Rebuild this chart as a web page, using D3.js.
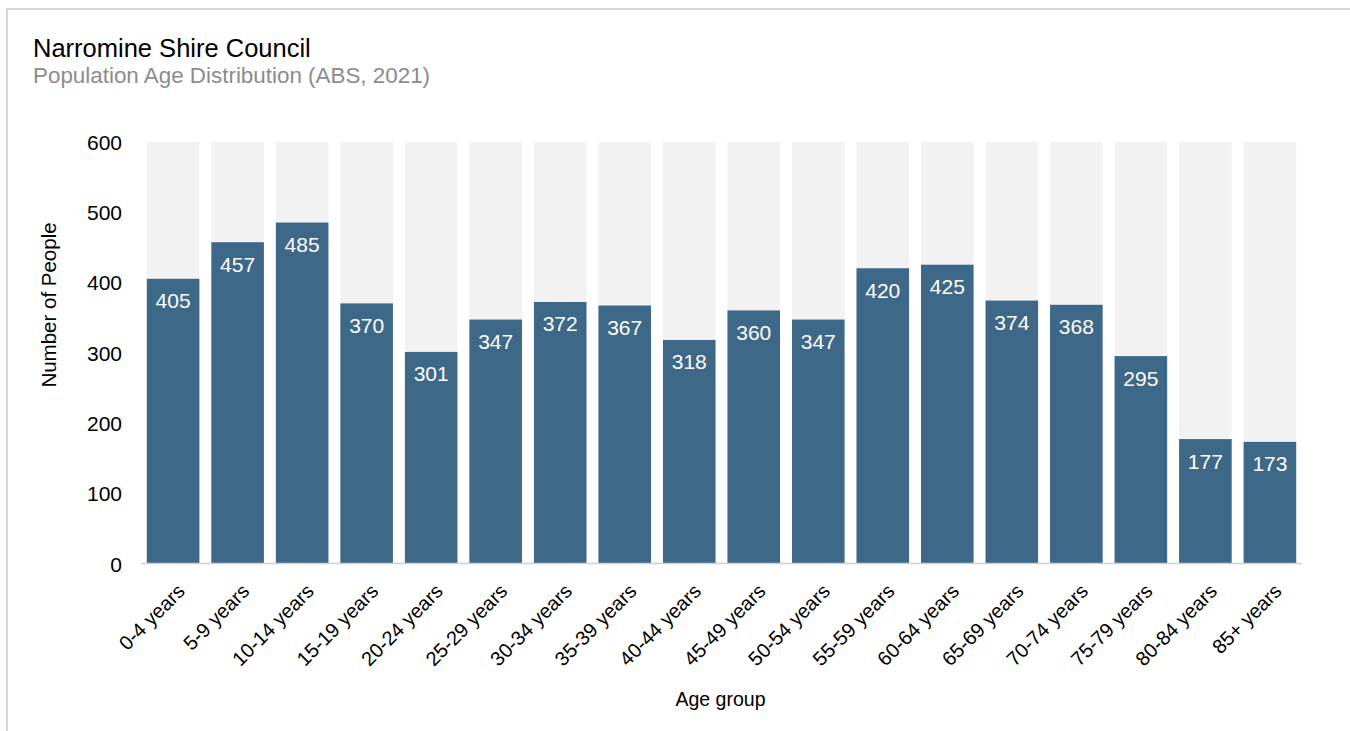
<!DOCTYPE html>
<html><head><meta charset="utf-8">
<script src="https://cdn.jsdelivr.net/npm/d3@7"></script>
<style>
html,body{margin:0;padding:0;background:#fff;}
svg{display:block;font-family:"Liberation Sans",Arial,sans-serif;}
</style></head>
<body>
<svg id="chart" width="1350" height="731"></svg>
<script>
const categories = ["0-4 years","5-9 years","10-14 years","15-19 years","20-24 years","25-29 years","30-34 years","35-39 years","40-44 years","45-49 years","50-54 years","55-59 years","60-64 years","65-69 years","70-74 years","75-79 years","80-84 years","85+ years"];
const values = [405,457,485,370,301,347,372,367,318,360,347,420,425,374,368,295,177,173];
const yTicks = [0,100,200,300,400,500,600];
const yMax = 600;
const title = "Narromine Shire Council";
const subtitle = "Population Age Distribution (ABS, 2021)";
const xTitle = "Age group";
const yTitle = "Number of People";

const svg = d3.select("#chart");
// border
svg.append("line").attr("x1",7).attr("x2",1350).attr("y1",9).attr("y2",9).attr("stroke","#d9d9d9").attr("stroke-width",2);
svg.append("line").attr("x1",7).attr("x2",7).attr("y1",8).attr("y2",731).attr("stroke","#d9d9d9").attr("stroke-width",2);

svg.append("text").attr("x",33).attr("y",57).attr("font-size",25.5).attr("fill","#000").text(title);
svg.append("text").attr("x",33).attr("y",83).attr("font-size",22.4).attr("fill","#8c8c8c").text(subtitle);

const x = d3.scaleBand().domain(categories).range([141,1302]).paddingInner(0.185).paddingOuter(0.09);
const y = d3.scaleLinear().domain([0,yMax]).range([563.5,141.7]);

// background bars
svg.append("g").selectAll("rect").data(categories).join("rect")
  .attr("x",d=>x(d)).attr("width",x.bandwidth())
  .attr("y",y(yMax)).attr("height",y(0)-y(yMax)).attr("fill","#f2f2f2");

// value bars
svg.append("g").selectAll("rect").data(values).join("rect")
  .attr("x",(d,i)=>x(categories[i])).attr("width",x.bandwidth())
  .attr("y",d=>y(d)).attr("height",d=>y(0)-y(d)).attr("fill","#3e6888");

// labels
svg.append("g").selectAll("text").data(values).join("text")
  .attr("x",(d,i)=>x(categories[i])+x.bandwidth()/2)
  .attr("y",d=>y(d)+29.5)
  .attr("text-anchor","middle").attr("font-size",21).attr("fill","#fff").text(d=>d);

// baseline
svg.append("line").attr("x1",141).attr("x2",1302).attr("y1",y(0)).attr("y2",y(0)).attr("stroke","#d0d0d0").attr("stroke-width",1.5);

// y axis
const yAxis = svg.append("g").attr("transform","translate(141,0)")
  .call(d3.axisLeft(y).tickValues(yTicks).tickSize(0).tickPadding(19));
yAxis.select(".domain").remove();
yAxis.selectAll("text").attr("font-size",21).attr("fill","#000").attr("font-family","Liberation Sans, Arial, sans-serif").attr("dy","0.36em");

// x axis
const xAxis = svg.append("g").attr("transform",`translate(0,${y(0)})`)
  .call(d3.axisBottom(x).tickSize(0).tickPadding(0));
xAxis.select(".domain").remove();
xAxis.selectAll("text").attr("font-size",20).attr("fill","#000").attr("font-family","Liberation Sans, Arial, sans-serif")
  .attr("text-anchor","end").attr("dy",null).attr("y",0)
  .attr("transform","translate(13,29) rotate(-45)");

svg.append("text").attr("x",720.5).attr("y",706).attr("text-anchor","middle").attr("font-size",19.5).attr("fill","#000").text(xTitle);
svg.append("text").attr("transform","translate(56,305) rotate(-90)").attr("text-anchor","middle").attr("font-size",20.5).attr("fill","#000").text(yTitle);
</script>
</body></html>
